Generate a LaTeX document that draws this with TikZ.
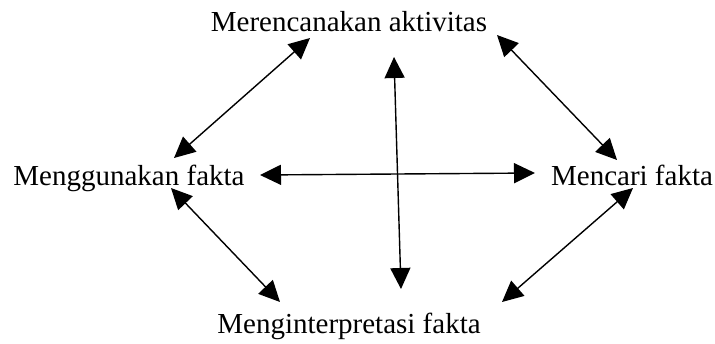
\documentclass[tikz,border=0pt]{standalone}
\usepackage{fontspec}
\setmainfont{Liberation Serif}
\usetikzlibrary{arrows.meta}
\tikzset{
  label/.style={inner sep=0pt, anchor=base, font=\fontsize{29}{34}\selectfont},
  link/.style={line width=1.4pt, {Triangle[length=21pt,width=20pt]}-{Triangle[length=21pt,width=20pt]}}
}
\begin{document}
\begin{tikzpicture}[x=1pt,y=-1pt]
  \useasboundingbox (0,0) rectangle (715,343);
  % activity labels
  \node[label] (plan)   at (349,31)  {Merencanakan aktivitas};
  \node[label] (use)    at (129,185) {Menggunakan fakta};
  \node[label] (find)   at (632,185) {Mencari fakta};
  \node[label] (interp) at (349,333) {Menginterpretasi fakta};
  % arrow end points
  \coordinate (ul1) at (174,158);  \coordinate (ul2) at (310,38);
  \coordinate (v1)  at (394,57);   \coordinate (v2)  at (401,289);
  \coordinate (h1)  at (260,175);  \coordinate (h2)  at (535,173);
  \coordinate (ur1) at (497,35);   \coordinate (ur2) at (617,160);
  \coordinate (ll1) at (171,188);  \coordinate (ll2) at (280,302);
  \coordinate (lr1) at (633,188);  \coordinate (lr2) at (502,302);
  % two-way links
  \draw[link] (ul1) -- (ul2);
  \draw[link] (v1) -- (v2);
  \draw[link] (h1) -- (h2);
  \draw[link] (ur1) -- (ur2);
  \draw[link] (ll1) -- (ll2);
  \draw[link] (lr1) -- (lr2);
\end{tikzpicture}
\end{document}
